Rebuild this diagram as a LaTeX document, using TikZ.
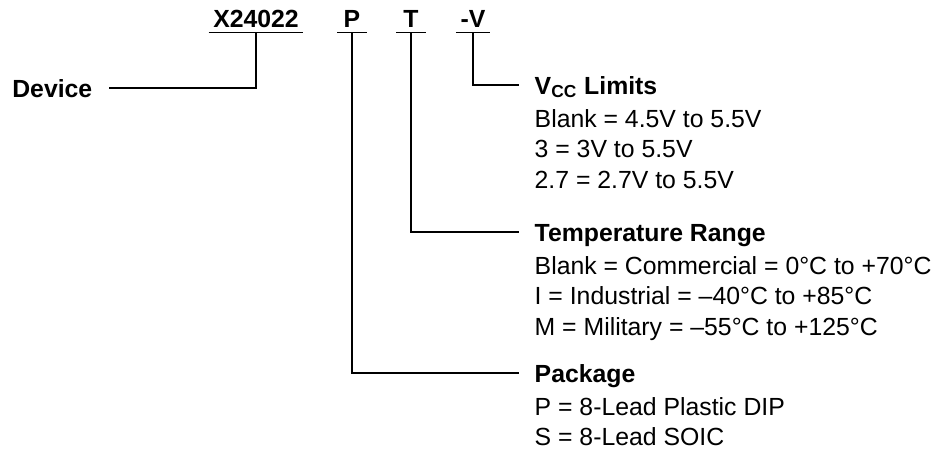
\documentclass[tikz,border=0pt]{standalone}
\usepackage{fontspec}
\setmainfont{Liberation Sans}
\tikzset{code/.style={font=\fontsize{12.4}{15}\selectfont\bfseries, anchor=base,
                      text depth=0pt, inner xsep=2pt, inner ysep=2.5pt,
                      minimum width=14pt},
         head/.style={font=\fontsize{12.4}{15}\selectfont\bfseries, anchor=base west,
                      text height=9pt, text depth=0pt, inner ysep=0pt,
                      inner xsep=7.5pt},
         item/.style={font=\fontsize{12.4}{15}\selectfont, anchor=base west,
                      inner sep=0pt}}

\begin{document}
\begin{tikzpicture}[x=0.5pt, y=-0.5pt, line width=0.7pt]
      \useasboundingbox (0,0) rectangle (936,450);

      \node[code] (part) at (256,27) {X24022};
      \node[code] (pkg) at (352,27) {P};
      \node[code] (temp) at (411,27) {T};
      \node[code] (volt) at (473,27) {-V};
      \foreach \n in {part, pkg, temp, volt}
        \draw (\n.south west) -- (\n.south east);

      \node[head, anchor=base east, inner xsep=8pt] (dev) at (109,97) {Device};

      \node[head] (vcch) at (519,94) {V\textsubscript{CC} Limits};
      \node[item] (v1) at (534,127) {Blank = 4.5V to 5.5V};
      \node[item] (v2) at (534,157.5) {3 = 3V to 5.5V};
      \node[item] (v3) at (534,188) {2.7 = 2.7V to 5.5V};

      \node[head] (temph) at (519,241) {Temperature Range};
      \node[item] (t1) at (534,274) {Blank = Commercial = 0°C to +70°C};
      \node[item] (t2) at (534,304.5) {I = Industrial = –40°C to +85°C};
      \node[item] (t3) at (534,335) {M = Military = –55°C to +125°C};

      \node[head] (pkgh) at (519,382) {Package};
      \node[item] (p1) at (534,415) {P = 8-Lead Plastic DIP};
      \node[item] (p2) at (534,445.5) {S = 8-Lead SOIC};

      \draw (part.south) |- (dev.east)
        (pkg.south) |- (pkgh.west)
        (temp.south) |- (temph.west)
        (volt.south) |- (vcch.west);
    \end{tikzpicture}
\end{document}
